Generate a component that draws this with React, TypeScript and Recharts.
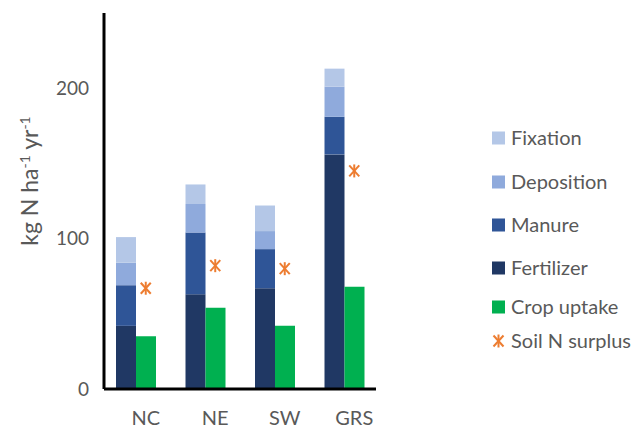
import React from 'react';
import { ComposedChart, Bar, Line, XAxis, YAxis, Legend, Label } from 'recharts';

const categories = ['NC', 'NE', 'SW', 'GRS'];
const fertilizer = [42, 63, 67, 156];
const manure = [27, 41, 26, 25];
const deposition = [15, 19, 12, 20];
const fixation = [17, 13, 17, 12];
const cropUptake = [35, 54, 42, 68];
const soilSurplus = [67, 82, 80, 145];
const spacer = [0, 0, 0, 0];
const yTicks = [0, 100, 200];

const COLORS = {
  fixation: '#B4C7E7',
  deposition: '#8FAADC',
  manure: '#2F5597',
  fertilizer: '#203864',
  crop: '#00B050',
  surplus: '#ED7D31',
};

const data = categories.map((c, i) => ({
  cat: c,
  fertilizer: fertilizer[i],
  manure: manure[i],
  deposition: deposition[i],
  fixation: fixation[i],
  crop: cropUptake[i],
  spacer: spacer[i],
  surplus: soilSurplus[i],
}));

const FONT = 'Lato, "Open Sans", sans-serif';
const TEXT = '#595959';

const Star = (props: any) => {
  const { cx, cy } = props;
  if (cx == null || cy == null) return null;
  const r = 6.5;
  const d = 5;
  return (
    <g stroke={COLORS.surplus} strokeWidth={2} fill="none">
      <line x1={cx} y1={cy - r} x2={cx} y2={cy + r} />
      <line x1={cx - d} y1={cy - r + 1} x2={cx + d} y2={cy + r - 1} />
      <line x1={cx - d} y1={cy + r - 1} x2={cx + d} y2={cy - r + 1} />
    </g>
  );
};

const legendItems = [
  { name: 'Fixation', color: COLORS.fixation, type: 'square', gap: 18 },
  { name: 'Deposition', color: COLORS.deposition, type: 'square', gap: 44 },
  { name: 'Manure', color: COLORS.manure, type: 'square', gap: 43 },
  { name: 'Fertilizer', color: COLORS.fertilizer, type: 'square', gap: 43 },
  { name: 'Crop uptake', color: COLORS.crop, type: 'square', gap: 39 },
  { name: 'Soil N surplus', color: COLORS.surplus, type: 'star', gap: 34 },
];

const LegendContent = () => {
  let y = 0;
  return (
    <svg width={160} height={240} style={{ overflow: 'visible' }}>
      {legendItems.map((it) => {
        y += it.gap;
        return (
          <g key={it.name}>
            {it.type === 'square' ? (
              <rect x={0} y={y - 6.5} width={13} height={13} fill={it.color} />
            ) : (
              <Star cx={6.5} cy={y} />
            )}
            <text x={19} y={y} dy="0.36em" fontSize={20} fill={TEXT} fontFamily={FONT}>
              {it.name}
            </text>
          </g>
        );
      })}
    </svg>
  );
};

const YLabel = () => (
  <text
    transform="translate(38,181) rotate(-90)"
    textAnchor="middle"
    fontSize={23}
    fill={TEXT}
    fontFamily={FONT}
  >
    <tspan>kg N ha</tspan>
    <tspan baselineShift="super" fontSize={14}>-1</tspan>
    <tspan> yr</tspan>
    <tspan baselineShift="super" fontSize={14}>-1</tspan>
  </text>
);

export default function App() {
  return (
    <div style={{ position: 'absolute', left: 0, top: 0, width: 644, height: 428, background: '#fff' }}>
      <ComposedChart
        width={644}
        height={428}
        data={data}
        margin={{ top: 13, right: 268, bottom: 0, left: 44 }}
        barGap={0}
        barSize={20}
      >
        <XAxis
          dataKey="cat"
          axisLine={{ stroke: '#000', strokeWidth: 3 }}
          tickLine={false}
          tickMargin={16}
          height={39}
          padding={{ left: 7, right: -13 }}
          tick={{ fill: TEXT, fontSize: 20, fontFamily: FONT }}
          interval={0}
        />
        <YAxis
          width={60}
          domain={[0, 250]}
          ticks={yTicks}
          axisLine={{ stroke: '#000', strokeWidth: 3 }}
          tickLine={false}
          tickMargin={9}
          tick={{ fill: TEXT, fontSize: 19, fontFamily: FONT }}
        >
          <Label content={<YLabel />} />
        </YAxis>
        <Bar dataKey="fertilizer" stackId="a" fill={COLORS.fertilizer} isAnimationActive={false} />
        <Bar dataKey="manure" stackId="a" fill={COLORS.manure} isAnimationActive={false} />
        <Bar dataKey="deposition" stackId="a" fill={COLORS.deposition} isAnimationActive={false} />
        <Bar dataKey="fixation" stackId="a" fill={COLORS.fixation} isAnimationActive={false} />
        <Bar dataKey="crop" fill={COLORS.crop} isAnimationActive={false} />
        <Bar dataKey="spacer" fill="none" isAnimationActive={false} />
        <Line
          dataKey="surplus"
          stroke="none"
          dot={<Star />}
          activeDot={false}
          isAnimationActive={false}
        />
        <Legend
          layout="vertical"
          align="center"
          verticalAlign="middle"
          content={<LegendContent />}
          wrapperStyle={{ position: 'absolute', left: 492, top: 120, width: 160, height: 240 }}
        />
      </ComposedChart>
    </div>
  );
}
